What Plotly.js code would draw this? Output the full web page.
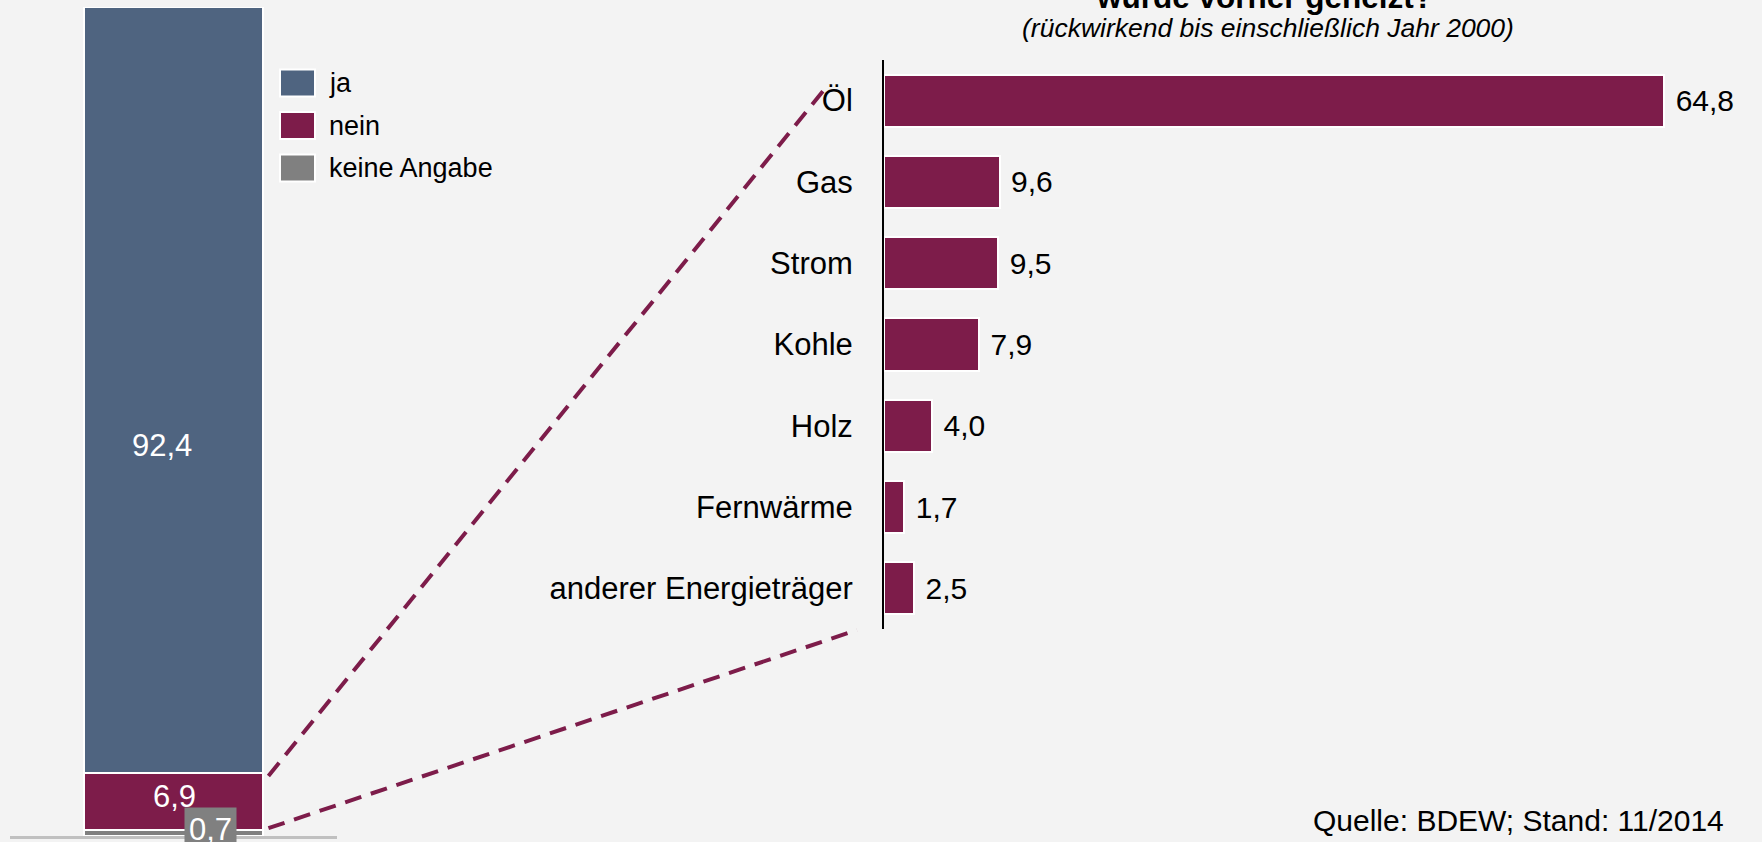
<!DOCTYPE html>
<html>
<head>
<meta charset="utf-8">
<script src="https://cdn.plot.ly/plotly-3.0.1.min.js"></script>
<style>
  html, body { margin: 0; padding: 0; background: #F3F3F3; }
  #chart { width: 1762px; height: 842px; }
</style>
</head>
<body>
<div id="chart"></div>
<script>
// ---- data ----
const stackCategory = ["gesamt"];
const seriesNames = ["ja", "nein", "keine Angabe"];
const jaValues = [92.4];
const neinValues = [6.9];
const keineValues = [0.7];

const energyCategories = ["Öl", "Gas", "Strom", "Kohle", "Holz", "Fernwärme", "anderer Energieträger"];
const energyValues = [64.8, 9.6, 9.5, 7.9, 4.0, 1.7, 2.5];

const titleLine = "wurde vorher geheizt?";
const subtitleLine = "(rückwirkend bis einschließlich Jahr 2000)";
const sourceText = "Quelle: BDEW; Stand: 11/2014";

// ---- style ----
const W = 1762, H = 842;
const FONT = "Liberation Sans, Arial, Helvetica, sans-serif";
const C_JA = "#4F6480", C_NEIN = "#7D1C4A", C_KA = "#808080", BG = "#F3F3F3";
const px = x => x / W;
const py = y => 1 - y / H;
const fmt = v => v.toFixed(1).replace(".", ",");

// left stacked bar geometry (pixels)
const L = { x0: 10, x1: 337, yTop: 7, yBot: 836 };
const barW = 0.55;
// right chart geometry
const R = { x0: 884, x1: 1751, yTop: 60, yBot: 629 };
const xMax2 = 72;

const traces = [
  { type: "bar", name: seriesNames[2], x: stackCategory, y: keineValues, xaxis: "x", yaxis: "y",
    width: barW, marker: { color: C_KA, line: { color: "#FFFFFF", width: 2 } }, hoverinfo: "skip" },
  { type: "bar", name: seriesNames[1], x: stackCategory, y: neinValues, xaxis: "x", yaxis: "y",
    width: barW, marker: { color: C_NEIN, line: { color: "#FFFFFF", width: 2 } }, hoverinfo: "skip" },
  { type: "bar", name: seriesNames[0], x: stackCategory, y: jaValues, xaxis: "x", yaxis: "y",
    width: barW, marker: { color: C_JA, line: { color: "#FFFFFF", width: 2 } }, hoverinfo: "skip" },
  { type: "bar", orientation: "h", x: energyValues, y: energyCategories, xaxis: "x2", yaxis: "y2",
    width: 0.64, marker: { color: C_NEIN, line: { color: "#FFFFFF", width: 2 } },
    text: energyValues.map(v => " " + fmt(v)), textposition: "outside", cliponaxis: false,
    textfont: { family: FONT, size: 30, color: "#000000" }, hoverinfo: "skip" }
];

// pixel helpers for left axis data
const leftYpx = v => L.yBot - v / 100 * (L.yBot - L.yTop);
const leftBarRightPx = L.x0 + (0.5 + barW / 2) * (L.x1 - L.x0);

const neinTop = keineValues[0] + neinValues[0];
const neinBottom = keineValues[0];

const annotations = [
  { xref: "paper", yref: "paper", x: px(1264), y: py(-3), text: "<b>" + titleLine + "</b>", showarrow: false,
    xanchor: "center", yanchor: "middle", font: { family: FONT, size: 31.5, color: "#000" } },
  { xref: "paper", yref: "paper", x: px(1268), y: py(28), text: "<i>" + subtitleLine + "</i>", showarrow: false,
    xanchor: "center", yanchor: "middle", font: { family: FONT, size: 26.5, color: "#000" } },
  { xref: "paper", yref: "paper", x: px(1726), y: py(820), text: sourceText, showarrow: false,
    xanchor: "right", yanchor: "middle", font: { family: FONT, size: 30, color: "#000" } },
  // stacked bar value labels
  { xref: "paper", yref: "paper", x: px(162), y: py(445), text: fmt(jaValues[0]), showarrow: false,
    xanchor: "center", yanchor: "middle", font: { family: FONT, size: 31, color: "#FFFFFF" } },
  { xref: "paper", yref: "paper", x: px(174), y: py(796), text: fmt(neinValues[0]), showarrow: false,
    xanchor: "center", yanchor: "middle", font: { family: FONT, size: 31, color: "#FFFFFF" } },
  { xref: "paper", yref: "paper", x: px(210), y: py(829), text: fmt(keineValues[0]), showarrow: false,
    xanchor: "center", yanchor: "middle", bgcolor: C_KA, borderpad: 4,
    font: { family: FONT, size: 31, color: "#FFFFFF" } }
];

// manual legend
const legendColors = [C_JA, C_NEIN, C_KA];
const legendCentersY = [83, 125.5, 168];
const shapes = [];
seriesNames.forEach((n, i) => {
  const cy = legendCentersY[i];
  shapes.push({ type: "rect", xref: "paper", yref: "paper", x0: px(280), x1: px(315), y0: py(cy + 13.5), y1: py(cy - 13.5),
    fillcolor: legendColors[i], line: { color: "#FFFFFF", width: 2 } });
  annotations.push({ xref: "paper", yref: "paper", x: px(327), y: py(cy), text: n, showarrow: false,
    xanchor: "left", yanchor: "middle", font: { family: FONT, size: 27, color: "#000" } });
});

// dashed connectors from the "nein" segment to the breakdown chart
const dashStyle = { color: C_NEIN, width: 4, dash: "17px,10px" };
shapes.push({ type: "line", xref: "paper", yref: "paper", x0: px(leftBarRightPx + 5), y0: py(leftYpx(neinTop) + 3),
  x1: px(828), y1: py(85), line: dashStyle });
shapes.push({ type: "line", xref: "paper", yref: "paper", x0: px(leftBarRightPx + 5), y0: py(leftYpx(neinBottom) - 2),
  x1: px(857), y1: py(630), line: dashStyle });

const layout = {
  width: W, height: H,
  margin: { l: 0, r: 0, t: 0, b: 0, pad: 0 },
  paper_bgcolor: BG, plot_bgcolor: BG,
  barmode: "stack",
  separators: ",.",
  showlegend: false,
  font: { family: FONT, color: "#000" },
  xaxis: { domain: [px(L.x0), px(L.x1)], range: [-0.5, 0.5], type: "category",
    showticklabels: false, ticks: "", showgrid: false, zeroline: false,
    showline: true, linecolor: "#C0C0C0", linewidth: 2.5, fixedrange: true },
  yaxis: { domain: [py(L.yBot), py(L.yTop)], range: [0, 100], visible: false, fixedrange: true },
  xaxis2: { domain: [px(R.x0), px(R.x1)], range: [0, xMax2], anchor: "y2", visible: false, fixedrange: true },
  yaxis2: { domain: [py(R.yBot), py(R.yTop)], anchor: "x2", type: "category",
    categoryorder: "array", categoryarray: energyCategories, range: [6.5, -0.5],
    showline: true, linecolor: "#000000", linewidth: 2, ticks: "", showgrid: false, zeroline: false,
    ticklabelstandoff: 23, tickfont: { family: FONT, size: 31, color: "#000" }, fixedrange: true },
  annotations: annotations,
  shapes: shapes
};

Plotly.newPlot("chart", traces, layout, { staticPlot: true, displayModeBar: false });
</script>
</body>
</html>
